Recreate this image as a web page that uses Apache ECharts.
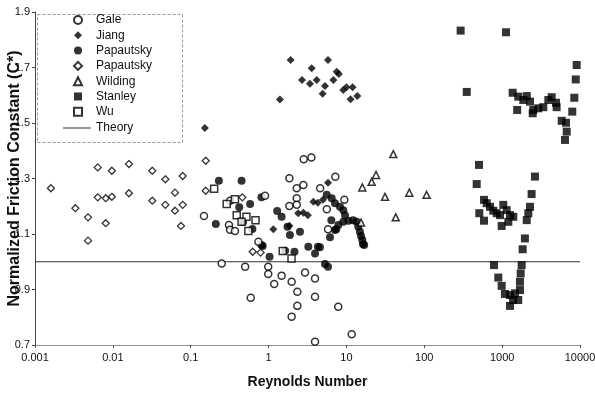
<!DOCTYPE html>
<html>
<head>
<meta charset="utf-8">
<script src="https://cdn.jsdelivr.net/npm/echarts@6/dist/echarts.min.js"></script>
<style>
  html, body { margin: 0; padding: 0; background: #fff; }
  #chart { width: 595px; height: 394px; }
</style>
</head>
<body>
<div id="chart"></div>
<script>
// values: [Reynolds number, normalized C*]
const galeData = [
  [0.25, 0.994], [0.50, 0.982], [0.99, 0.982], [0.99, 0.956], [1.47, 0.950], [2.94, 0.961],
  [3.95, 0.940], [1.18, 0.920], [1.98, 0.928], [2.34, 0.892], [3.95, 0.874], [0.59, 0.870],
  [2.34, 0.841], [7.85, 0.838], [1.98, 0.802], [11.7, 0.739], [3.95, 0.712],
  [2.83, 1.369], [3.55, 1.376], [1.85, 1.301], [7.2, 1.306], [2.3, 1.265], [2.8, 1.277],
  [4.6, 1.265], [2.3, 1.229], [1.85, 1.201], [2.3, 1.205], [5.6, 1.189], [5.8, 1.117],
  [9.4, 1.223], [0.90, 1.238], [0.32, 1.220], [0.148, 1.165], [0.31, 1.132], [0.32, 1.115],
  [0.37, 1.111], [0.74, 1.072]
]
const jiangData = [
  [0.152, 1.482], [1.40, 1.585], [1.92, 1.727], [5.8, 1.727], [3.58, 1.697], [2.69, 1.655],
  [3.40, 1.641], [4.15, 1.655], [5.31, 1.633], [4.95, 1.605], [6.8, 1.655], [7.5, 1.685],
  [8.0, 1.677], [9.1, 1.619], [10.0, 1.629], [12.0, 1.629], [11.3, 1.586], [13.8, 1.597],
  [1.15, 1.117], [5.8, 1.285], [3.76, 1.216], [4.3, 1.213], [5.0, 1.223], [2.4, 1.175],
  [2.8, 1.177], [3.2, 1.168], [1.85, 1.130]
]
const papautskyFilled = [
  [0.23, 1.292], [0.45, 1.292], [0.58, 1.208], [0.42, 1.196], [0.81, 1.232], [0.21, 1.136],
  [0.62, 1.118], [0.47, 1.143], [0.81, 1.060], [1.03, 1.018], [1.29, 1.183], [1.47, 1.162],
  [1.75, 1.126], [0.84, 1.057], [1.63, 1.040], [2.15, 1.036], [3.24, 1.054], [3.95, 1.030],
  [4.57, 1.052], [5.31, 0.992], [5.8, 0.982], [1.88, 1.096], [2.53, 1.108], [4.3, 1.054],
  [6.4, 1.150], [6.15, 1.088], [7.4, 1.117],
  [5.58, 1.241], [6.47, 1.229], [7.13, 1.211], [8.27, 1.198], [9.12, 1.186], [9.59, 1.168],
  [7.13, 1.114], [7.87, 1.132], [9.12, 1.144], [10.6, 1.148], [12.2, 1.150], [13.5, 1.144],
  [14.2, 1.126], [14.9, 1.108], [15.4, 1.093], [16.0, 1.078], [16.9, 1.060], [16.3, 1.064]
]
const papautskyOpen = [
  [0.0016, 1.265], [0.0033, 1.193], [0.0048, 1.160], [0.0048, 1.076], [0.0064, 1.340],
  [0.0064, 1.232], [0.0081, 1.229], [0.0081, 1.139], [0.0097, 1.328], [0.0097, 1.234],
  [0.0161, 1.352], [0.0161, 1.247], [0.0321, 1.328], [0.0321, 1.220], [0.0472, 1.297],
  [0.0472, 1.205], [0.0628, 1.249], [0.0628, 1.184], [0.0789, 1.309], [0.0789, 1.205],
  [0.075, 1.129], [0.156, 1.364], [0.156, 1.256], [0.46, 1.232], [0.625, 1.036], [0.79, 1.033]
]
const wildingData = [
  [40, 1.388], [24, 1.313], [21.1, 1.288], [16, 1.268], [31.3, 1.234], [64.2, 1.249],
  [107, 1.241], [43, 1.160], [15.4, 1.141]
]
const stanleyData = [
  [293, 1.833], [1120, 1.827], [351, 1.612], [9060, 1.709], [8810, 1.657], [8450, 1.591],
  [7960, 1.541], [5820, 1.508], [6610, 1.501], [6750, 1.469], [6420, 1.439],
  [1365, 1.609], [1610, 1.595], [1870, 1.583], [2070, 1.597], [2280, 1.577], [2510, 1.547],
  [1560, 1.547], [2910, 1.553], [3380, 1.557], [3920, 1.583], [4330, 1.593], [4920, 1.573],
  [5010, 1.557], [2470, 1.535],
  [504, 1.349], [471, 1.280], [2640, 1.307], [2390, 1.244], [585, 1.223], [633, 1.211],
  [698, 1.198], [770, 1.184], [851, 1.175], [938, 1.168], [1035, 1.205], [1143, 1.186],
  [1262, 1.168], [1391, 1.162], [509, 1.175], [585, 1.148], [986, 1.129], [1200, 1.144],
  [2280, 1.198], [2170, 1.175], [2070, 1.150], [1960, 1.084], [1835, 1.045], [785, 0.988],
  [1782, 0.988], [1730, 0.958], [892, 0.943], [986, 0.913], [1694, 0.928], [1087, 0.884],
  [1262, 0.880], [1462, 0.886], [1694, 0.898], [1611, 0.862], [1380, 0.862], [1262, 0.841]
]
const wuData = [
  [0.20, 1.263], [0.29, 1.208], [0.37, 1.225], [0.39, 1.168], [0.52, 1.162], [0.68, 1.150],
  [0.45, 1.144], [0.55, 1.111], [1.52, 1.039], [1.97, 1.012]
]
const theoryData = [[0.001, 1.0], [10000, 1.0]]
const xTickLabels = ['0.001', '0.01', '0.1', '1', '10', '100', '1000', '10000']
const markerNames = ['Gale', 'Jiang', 'Papautsky', 'Papautsky ', 'Wilding', 'Stanley', 'Wu']

const FONT = 'Liberation Sans, Arial, sans-serif'
const openStyle = { color: '#fff', borderColor: '#000', borderWidth: 1.5 }

const chart = echarts.init(document.getElementById('chart'))

chart.setOption({
  animation: false,
  textStyle: { fontFamily: FONT, color: '#111' },
  grid: { left: 35, right: 15, top: 12, bottom: 49, outerBoundsMode: 'none' },
  legend: [
    {
      data: markerNames,
      orient: 'vertical',
      left: 73,
      top: 14,
      padding: 0,
      itemWidth: 8,
      itemHeight: 8,
      itemGap: 3.3,
      textStyle: { fontSize: 12, color: '#111', fontFamily: FONT, padding: [0, 0, 0, 9] },
      z: 5,
    },
    {
      data: [{ name: 'Theory', icon: 'rect' }],
      orient: 'vertical',
      left: 63,
      top: 122,
      padding: 0,
      itemWidth: 28,
      itemHeight: 1,
      textStyle: { fontSize: 12, color: '#111', fontFamily: FONT },
      z: 5,
    },
  ],
  graphic: [{
    type: 'rect',
    left: 35, top: 12,
    shape: { width: 145, height: 128 },
    style: { fill: 'none', stroke: '#999', lineWidth: 1, lineDash: [3, 2] },
    z: 0,
  }],
  xAxis: {
    type: 'log',
    logBase: 10,
    min: 0.001,
    max: 10000,
    name: 'Reynolds Number',
    nameLocation: 'middle',
    nameGap: 30,
    nameTextStyle: { fontSize: 14, fontWeight: 'bold', color: '#111', fontFamily: FONT },
    axisLine: { lineStyle: { color: '#777', type: 'dotted' } },
    axisTick: { length: 3, lineStyle: { color: '#555' } },
    axisLabel: {
      fontSize: 11, color: '#111', margin: 7,
      formatter: v => xTickLabels[Math.round(Math.log10(v)) + 3],
    },
    splitLine: { show: false },
  },
  yAxis: {
    type: 'value',
    min: 0.7,
    max: 1.9,
    interval: 0.2,
    name: 'Normalized Friction Constant (C*)',
    nameLocation: 'middle',
    nameGap: 12,
    nameMoveOverlap: false,
    nameTextStyle: { fontSize: 16, fontWeight: 'bold', color: '#111', fontFamily: FONT },
    axisLine: { show: true, lineStyle: { color: '#444' } },
    axisTick: { show: true, length: 3, lineStyle: { color: '#444' } },
    axisLabel: { fontSize: 11, color: '#111', margin: 5, formatter: v => v.toFixed(1) },
    splitLine: { show: false },
  },
  series: [
    {
      name: 'Gale', type: 'scatter', data: galeData,
      symbol: 'circle', symbolSize: 7, itemStyle: openStyle, z: 4,
    },
    {
      name: 'Jiang', type: 'scatter', data: jiangData,
      symbol: 'diamond', symbolSize: 8, itemStyle: { color: '#000' }, z: 3,
    },
    {
      name: 'Papautsky', type: 'scatter', data: papautskyFilled,
      symbol: 'circle', symbolSize: 8, itemStyle: { color: '#000' }, z: 3,
    },
    {
      name: 'Papautsky ', type: 'scatter', data: papautskyOpen,
      symbol: 'diamond', symbolSize: 7, itemStyle: { color: '#fff', borderColor: '#000', borderWidth: 1.3 }, z: 4,
    },
    {
      name: 'Wilding', type: 'scatter', data: wildingData,
      symbol: 'triangle', symbolSize: 7, itemStyle: openStyle, z: 4,
    },
    {
      name: 'Stanley', type: 'scatter', data: stanleyData,
      symbol: 'rect', symbolSize: 8, itemStyle: { color: '#000' }, z: 3,
    },
    {
      name: 'Wu', type: 'scatter', data: wuData,
      symbol: 'rect', symbolSize: 7, itemStyle: openStyle, z: 4,
    },
    {
      name: 'Theory', type: 'line', data: theoryData,
      symbol: 'none', lineStyle: { color: '#333', width: 1 }, itemStyle: { color: '#333' }, z: 2,
    },
  ],
})
</script>
</body>
</html>
